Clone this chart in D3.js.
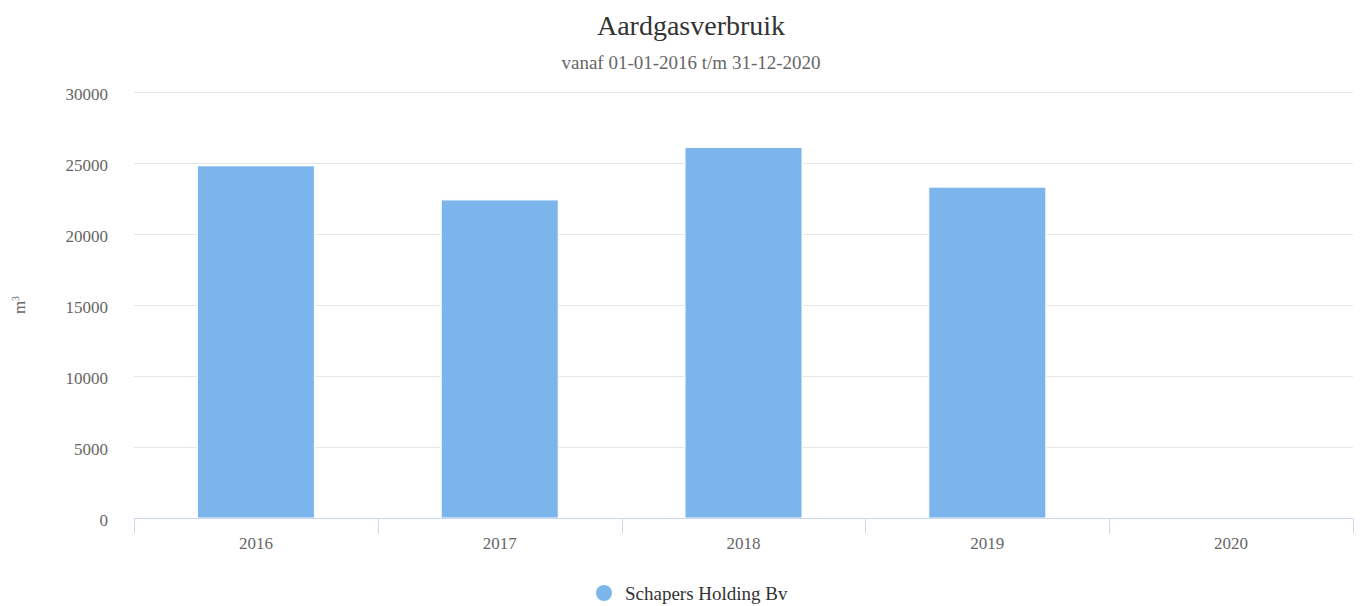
<!DOCTYPE html>
<html>
<head>
<meta charset="utf-8">
<script src="https://cdn.jsdelivr.net/npm/d3@7"></script>
<style>
  body { margin: 0; background: #fff; }
  svg { font-family: "Liberation Serif", "Times New Roman", serif; }
</style>
</head>
<body>
<svg id="chart" width="1361" height="606"></svg>
<script>
// data
const years = ["2016", "2017", "2018", "2019", "2020"];
const gasUse = [24800, 22400, 26100, 23300, 0];
const yTicks = [0, 5000, 10000, 15000, 20000, 25000, 30000];
const seriesName = "Schapers Holding Bv";

const W = 1361, H = 606;
const margin = { left: 134, right: 8, top: 92, bottom: 88 };
const centerX = 691;

const svg = d3.select("#chart");

const x = d3.scaleBand().domain(years).range([margin.left, W - margin.right]).paddingInner(0).paddingOuter(0);
const y = d3.scaleLinear().domain([0, 30000]).range([H - margin.bottom, margin.top]);

// grid
svg.append("g").selectAll("line").data(yTicks).join("line")
  .attr("x1", margin.left).attr("x2", W - margin.right)
  .attr("y1", d => Math.round(y(d)) + 0.5).attr("y2", d => Math.round(y(d)) + 0.5)
  .attr("stroke", "#e6e6e6").attr("stroke-width", 1);

// y labels
svg.append("g").selectAll("text").data(yTicks).join("text")
  .attr("x", 108).attr("y", d => y(d) + 8)
  .attr("text-anchor", "end").attr("font-size", 17).attr("fill", "#666")
  .text(d => d);

// y title
svg.append("text")
  .attr("transform", "translate(25," + ((margin.top + H - margin.bottom) / 2) + ") rotate(-90)")
  .attr("text-anchor", "middle").attr("font-size", 17).attr("fill", "#666")
  .html("m<tspan dy='-6' font-size='10'>3</tspan>");

// bars
const barW = x.bandwidth() * 0.48;
svg.append("g").selectAll("rect").data(gasUse).join("rect")
  .attr("x", (d, i) => x(years[i]) + (x.bandwidth() - barW) / 2)
  .attr("y", d => y(d))
  .attr("width", barW)
  .attr("height", d => y(0) - y(d))
  .attr("fill", "#7cb5ec")
  .attr("stroke", d => d > 0 ? "#fff" : "none").attr("stroke-width", 1);

// x axis
const xAxis = svg.append("g").attr("transform", "translate(0," + (Math.round(y(0)) + 0.5) + ")");
xAxis.append("line").attr("x1", margin.left).attr("x2", W - margin.right)
  .attr("stroke", "#ccd6eb");
const bounds = years.map(d => x(d)).concat([W - margin.right]);
xAxis.selectAll("line.tick").data(bounds).join("line").attr("class", "tick")
  .attr("x1", d => Math.round(d) + 0.5).attr("x2", d => Math.round(d) + 0.5)
  .attr("y1", 0).attr("y2", 15).attr("stroke", "#ccd6eb");
xAxis.selectAll("text").data(years).join("text")
  .attr("x", d => x(d) + x.bandwidth() / 2).attr("y", 30)
  .attr("text-anchor", "middle").attr("font-size", 17).attr("fill", "#666")
  .text(d => d);

// title + subtitle
svg.append("text").attr("x", centerX).attr("y", 35).attr("text-anchor", "middle")
  .attr("font-size", 28).attr("fill", "#333").text("Aardgasverbruik");
svg.append("text").attr("x", centerX).attr("y", 69).attr("text-anchor", "middle")
  .attr("font-size", 19).attr("fill", "#666").text("vanaf 01-01-2016 t/m 31-12-2020");

// legend
const leg = svg.append("g").attr("transform", "translate(604,593)");
leg.append("circle").attr("r", 8).attr("fill", "#7cb5ec");
leg.append("text").attr("x", 21).attr("y", 7).attr("font-size", 19).attr("fill", "#333")
  .text(seriesName);
</script>
</body>
</html>
